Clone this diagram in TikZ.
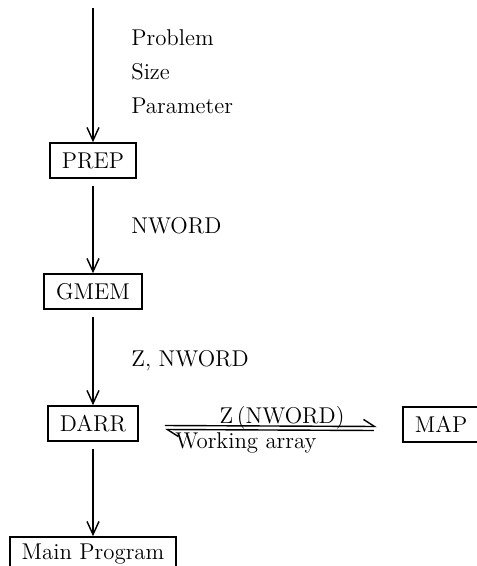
\documentclass[tikz,border=0pt]{standalone}
\usepackage{fontspec}
\usetikzlibrary{arrows.meta,calc}
\tikzstyle{blk} = [draw, line width=1pt, minimum height=0.7cm, inner xsep=0.24cm]
\tikzstyle{txt} = [anchor=base west, inner sep=0pt]
\tikzstyle{arrow} = [line width=0.8pt, -{Straight Barb[length=2.6mm,width=2.4mm]}]
\tikzstyle{harp} = [line width=0.8pt, -{Straight Barb[left,length=2.2mm,width=2.8mm]}]
\begin{document}
\begin{tikzpicture}[x=0.02cm, y=-0.02cm, font=\fontsize{13}{16}\selectfont]
\useasboundingbox (0,0) rectangle (477,566);
\coordinate (in) at (93,8);
\draw (93,160.5) node (prep) [blk] {PREP};
\draw (93,291.5) node (gmem) [blk] {GMEM};
\draw (93,423.5) node (darr) [blk] {DARR};
\draw (441,424.5) node (map) [blk] {MAP};
\draw (93,554.5) node (main) [blk] {Main Program};
% input labels
\draw (131,45) node (prob) [txt] {Problem};
\draw (131,79) node (size) [txt] {Size};
\draw (131,113) node (par) [txt] {Parameter};
\draw (131,233) node (nw) [txt] {NWORD};
\draw (131,366) node (znw) [txt] {Z, NWORD};
\draw (282,423) node (zlab) [anchor=base, inner sep=0pt] {Z\,(NWORD)};
\draw (246,448) node (wlab) [anchor=base, inner sep=0pt] {Working array};
% flow
\draw[arrow] (in) -- (prep);
\draw[arrow, shorten <=4pt] (prep) -- (gmem);
\draw[arrow, shorten <=4pt] (gmem) -- (darr);
\draw[arrow, shorten <=4pt] (darr) -- (main);
\draw[harp] ($(darr.east)+(26,2)$) -- ($(map.west)+(-25,2)$);
\draw[harp] ($(map.west)+(-28,6)$) -- ($(darr.east)+(26,6)$);
\end{tikzpicture}
\end{document}
